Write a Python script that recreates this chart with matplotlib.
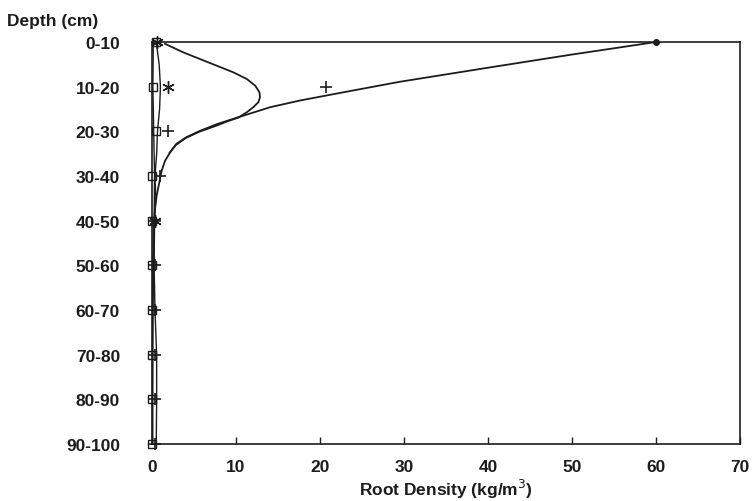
import numpy as np
import matplotlib
matplotlib.use("Agg")
import matplotlib.pyplot as plt

# depth classes (cm), top to bottom
depths = ['0-10', '10-20', '20-30', '30-40', '40-50',
          '50-60', '60-70', '70-80', '80-90', '90-100']
x_ticks = [0, 10, 20, 30, 40, 50, 60, 70]

# measured root density (kg/m3) per depth class
square_x = [0.5, 0.1, 0.5, 0.0, 0.0, 0.0, 0.0, 0.0, 0.0, 0.0]
plus_x = [60.0, 20.7, 1.9, 0.9, 0.3, 0.3, 0.3, 0.4, 0.4, 0.3]
star_x = [0.6, 1.9, np.nan, np.nan, 0.3, np.nan, np.nan, np.nan, np.nan, np.nan]

# fitted curves (x = density, d = depth class index)
fit1_x = [60.0, 50.0, 40.0, 29.5, 23.5, 17.6, 14.05, 11.7, 10.5, 7.7, 5.7,
          4.1, 2.9, 2.15, 1.55, 1.15, 0.87, 0.55, 0.35, 0.2, 0.12, 0.08, 0.05]
fit1_d = [0.0, 0.28, 0.575, 0.89, 1.1, 1.31, 1.46, 1.6, 1.67, 1.84, 1.99,
          2.13, 2.28, 2.47, 2.66, 2.88, 3.14, 3.44, 3.74, 4.2, 5.0, 6.0, 9.0]

fit2_x = [1.55, 3.7, 5.7, 7.7, 9.7, 11.3, 12.3, 12.8, 12.85, 12.65, 12.05,
          11.3, 10.3, 8.9, 7.7, 5.6, 4.0, 2.8, 2.1]
fit2_d = [0.04, 0.23, 0.38, 0.53, 0.68, 0.83, 0.98, 1.13, 1.24, 1.35, 1.46,
          1.57, 1.69, 1.78, 1.87, 2.01, 2.15, 2.31, 2.48]

lens_left_x = [0.15, 0.1, 0.2, 0.3, 0.25, 0.2, 0.1, 0.05, 0.05, 0.05]
lens_left_d = [0, 1, 2, 3, 4, 5, 6, 7, 8, 9]
lens_right_x = [0.5, 0.85, 1.0, 0.9, 0.65, 0.55, 0.35, 0.45, 0.3, 0.25, 0.35, 0.55, 0.55, 0.5]
lens_right_d = [0, 0.5, 1, 1.5, 2, 2.5, 3, 3.5, 4, 5, 6, 7, 8, 9]

plt.rcParams['font.family'] = ['Liberation Sans', 'DejaVu Sans']
ink = '#1c1c1c'

fig = plt.figure(figsize=(7.53, 5.02), dpi=100)
ax = fig.add_axes([0.2019, 0.1135, 0.7808, 0.8008])

pos = np.arange(len(depths))

ax.plot(fit1_x, fit1_d, color=ink, lw=1.3, solid_joinstyle='round')
ax.plot(fit2_x, fit2_d, color=ink, lw=1.3, solid_joinstyle='round')
ax.plot(lens_left_x, lens_left_d, color=ink, lw=1.0, clip_on=False)
ax.plot(lens_right_x, lens_right_d, color=ink, lw=1.0, clip_on=False)

ax.plot(square_x, pos, ls='none', marker='s', ms=6, mfc='none', mec=ink,
        mew=1.0, clip_on=False)
ax.plot(plus_x[1:], pos[1:], ls='none', marker='+', ms=9, mec=ink,
        mew=1.2, clip_on=False)
ax.plot(plus_x[:1], pos[:1], ls='none', marker='o', ms=4, mfc=ink, mec=ink,
        clip_on=False)
ax.plot(star_x, pos, ls='none', marker=(6, 2, 0), ms=9, mec=ink,
        mew=1.0, clip_on=False)

ax.set_xlim(0, 70)
ax.set_ylim(9, 0)
ax.set_xticks(x_ticks)
ax.set_xticklabels([str(v) for v in x_ticks])
ax.set_yticks(pos)
ax.set_yticklabels(depths)

for s in ax.spines.values():
    s.set_color(ink)
    s.set_linewidth(1.2)

ax.tick_params(axis='x', direction='in', length=5, width=1, pad=11,
               labelsize=12.5, colors=ink)
ax.tick_params(axis='y', length=0, pad=23, labelsize=12.5, colors=ink)
for lab in ax.get_xticklabels() + ax.get_yticklabels():
    lab.set_fontweight('bold')

ax.set_xlabel('Root Density (kg/m$^{3}$)', fontsize=12.5, fontweight='bold',
              color=ink, labelpad=2)
fig.text(0.009, 0.958, 'Depth (cm)', fontsize=12.5, fontweight='bold',
         color=ink, ha='left', va='center')

fig.savefig('out.png', dpi=100)
